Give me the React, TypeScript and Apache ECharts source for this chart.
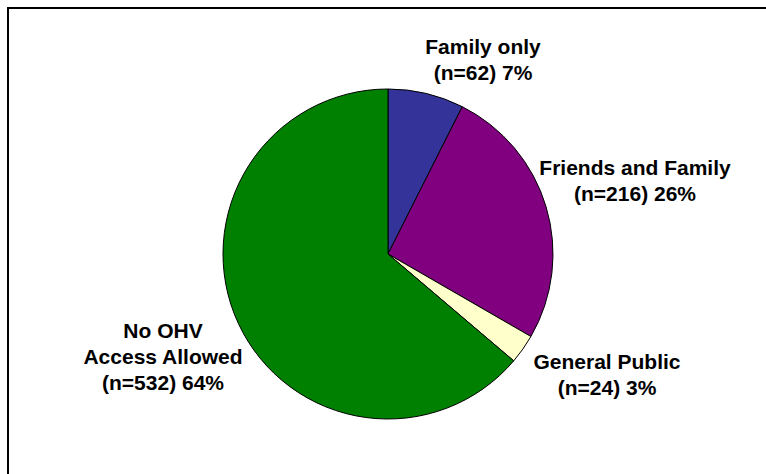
import React, { useEffect, useRef } from "react";
import * as echarts from "echarts";

const categories = ["Family only", "Friends and Family", "General Public", "No OHV\nAccess Allowed"];
const counts = [62, 216, 24, 532];
const colors = ["#333399", "#800080", "#FFFFCC", "#008000"];
const labelCenters: [number, number][] = [
  [483, 59],
  [635, 180],
  [607, 374],
  [163, 356],
];

export default function App() {
  const ref = useRef<HTMLDivElement>(null);
  useEffect(() => {
    if (!ref.current) return;
    const chart = echarts.init(ref.current, null, { renderer: "svg" });
    const total = counts.reduce((a, b) => a + b, 0);
    chart.setOption({
      animation: false,
      backgroundColor: "#ffffff",
      graphic: [
        {
          type: "rect",
          shape: { x: 8, y: 8, width: 800, height: 500 },
          style: { fill: "none", stroke: "#000", lineWidth: 2 },
          silent: true,
        },
      ],
      series: [
        {
          type: "pie",
          center: [388, 254],
          radius: 165,
          startAngle: 90,
          clockwise: true,
          data: categories.map((name, i) => ({
            name,
            value: counts[i],
            itemStyle: { color: colors[i] },
          })),
          itemStyle: { borderColor: "#000", borderWidth: 1 },
          emphasis: { disabled: true },
          label: {
            show: true,
            position: "outside",
            formatter: (p: any) =>
              `${p.name}\n(n=${p.value}) ${Math.round((p.value / total) * 100)}%`,
            fontFamily: "'Liberation Sans', Arial, sans-serif",
            fontWeight: "bold",
            fontSize: 21,
            lineHeight: 26,
            color: "#000",
            align: "center",
            overflow: "none",
            width: 300,
          },
          labelLine: { show: false },
          labelLayout: (params: any) => {
            const c = labelCenters[params.dataIndex];
            return { x: c[0], y: c[1], align: "center", verticalAlign: "middle" };
          },
        },
      ],
    });
    return () => chart.dispose();
  }, []);
  return (
    <div
      ref={ref}
      style={{ position: "fixed", left: 0, top: 0, width: 766, height: 474 }}
    />
  );
}
